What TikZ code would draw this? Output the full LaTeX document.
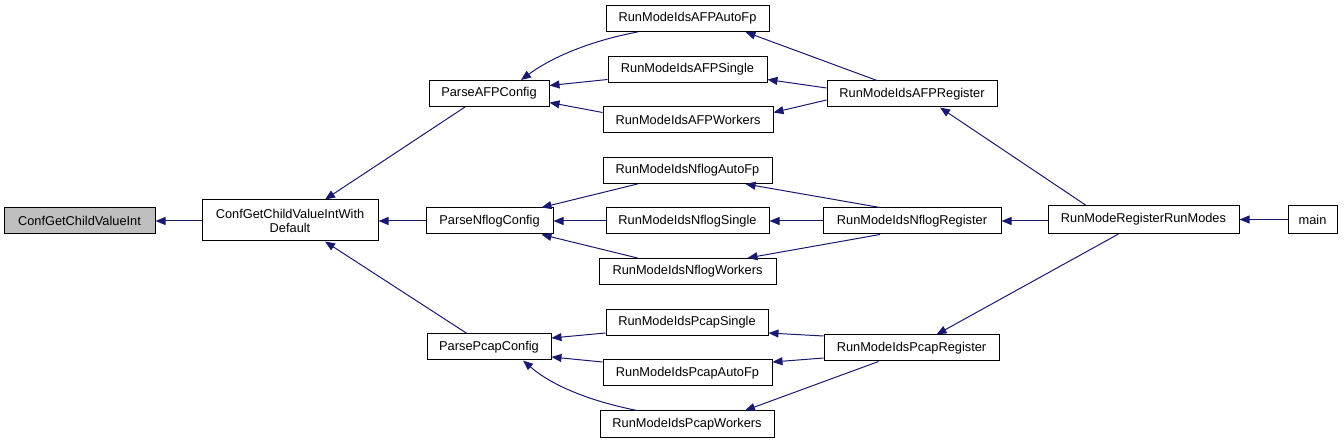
\documentclass[tikz,border=0pt]{standalone}
\usepackage{fontspec}
\setmainfont{Liberation Sans}
\usetikzlibrary{arrows.meta,calc}
\definecolor{edgeblue}{RGB}{25,25,112}
\definecolor{grayfill}{RGB}{191,191,191}
\tikzset{
  box/.style={draw=black, line width=1pt, fill=white, inner sep=0pt, minimum height=26pt,
    font=\fontsize{12.8}{15}\selectfont, align=center},
  arr/.style={draw=edgeblue, line width=1pt, -{Triangle[length=10pt,width=8pt]}}
}
\begin{document}
\begin{tikzpicture}[x=1pt,y=-1pt]
\useasboundingbox (0,0) rectangle (1344,443);
% nodes
\node[box, fill=grayfill, minimum width=151pt] (cgcvi) at (79.5,221) {ConfGetChildValueInt};
\node[box, minimum width=176pt, minimum height=41pt] (wd) at (290,220.5) {ConfGetChildValueIntWith\\[-1pt]Default};
\node[box, minimum width=120pt] (pafp) at (489,93.5) {ParseAFPConfig};
\node[box, minimum width=127pt] (pnflog) at (489.5,221) {ParseNflogConfig};
\node[box, minimum width=124pt] (ppcap) at (489,347) {ParsePcapConfig};
\node[box, minimum width=163pt] (afpauto) at (687.5,18.5) {RunModeIdsAFPAutoFp};
\node[box, minimum width=159pt] (afpsingle) at (687.5,69.5) {RunModeIdsAFPSingle};
\node[box, minimum width=170pt] (afpworkers) at (688,119.5) {RunModeIdsAFPWorkers};
\node[box, minimum width=169pt] (nflogauto) at (687.5,170.5) {RunModeIdsNflogAutoFp};
\node[box, minimum width=163pt] (nflogsingle) at (687.5,221) {RunModeIdsNflogSingle};
\node[box, minimum width=177pt] (nflogworkers) at (687.5,271.5) {RunModeIdsNflogWorkers};
\node[box, minimum width=162pt] (pcapsingle) at (687,322.5) {RunModeIdsPcapSingle};
\node[box, minimum width=169pt] (pcapauto) at (687.5,373) {RunModeIdsPcapAutoFp};
\node[box, minimum width=174pt] (pcapworkers) at (687,424) {RunModeIdsPcapWorkers};
\node[box, minimum width=170pt] (afpreg) at (912,94) {RunModeIdsAFPRegister};
\node[box, minimum width=178pt] (nflogreg) at (912,221) {RunModeIdsNflogRegister};
\node[box, minimum width=175pt] (pcapreg) at (911.5,348) {RunModeIdsPcapRegister};
\node[box, minimum width=191pt, minimum height=28pt] (rrm) at (1143.5,219.5) {RunModeRegisterRunModes};
\node[box, minimum width=49pt, minimum height=28pt] (main) at (1312.5,219.5) {main};
% edges
\draw[arr] (wd.west |- cgcvi.east) -- (cgcvi.east);
\draw[arr] ([xshift=-24]pafp.south) -- ([xshift=35]wd.north);
\draw[arr] (pnflog.west) -- (wd.east |- pnflog.west);
\draw[arr] ([xshift=-22]ppcap.north) -- ([xshift=35]wd.south);
\draw[arr] ([xshift=-50]afpauto.south) .. controls (595,40) and (555,55) .. ([xshift=32]pafp.north);
\draw[arr] ($(afpsingle.west)+(0,10)$) -- ($(pafp.east)+(0,-8)$);
\draw[arr] ($(afpworkers.west)+(0,-7)$) -- ($(pafp.east)+(0,9)$);
\draw[arr] ([xshift=-35]afpreg.north) -- ([xshift=58]afpauto.south);
\draw[arr] ($(afpreg.west)+(0,-6)$) -- ($(afpsingle.east)+(0,10)$);
\draw[arr] ($(afpreg.west)+(0,6)$) -- ($(afpworkers.east)+(0,-7)$);
\draw[arr] ([xshift=-58]rrm.north) -- ([xshift=28]afpreg.south);
\draw[arr] (rrm.west |- nflogreg.east) -- (nflogreg.east);
\draw[arr] ([xshift=-25]rrm.south) -- ([xshift=25]pcapreg.north);
\draw[arr] (main.west) -- (rrm.east);
\draw[arr] ([xshift=-50]nflogauto.south) -- ([xshift=52]pnflog.north);
\draw[arr] (nflogsingle.west) -- (pnflog.east);
\draw[arr] ([xshift=-50]nflogworkers.north) -- ([xshift=52]pnflog.south);
\draw[arr] ([xshift=-32]nflogreg.north) -- ([xshift=58]nflogauto.south);
\draw[arr] (nflogreg.west) -- (nflogsingle.east);
\draw[arr] ([xshift=-32]nflogreg.south) -- ([xshift=60]nflogworkers.north);
\draw[arr] ($(pcapsingle.west)+(0,10.5)$) -- ($(ppcap.east)+(0,-9)$);
\draw[arr] ($(pcapauto.west)+(0,-11)$) -- ($(ppcap.east)+(0,10)$);
\draw[arr] ([xshift=-50]pcapworkers.north) .. controls (595,402) and (555,388) .. ([xshift=34]ppcap.south);
\draw[arr] ($(pcapreg.west)+(0,-12)$) -- ($(pcapsingle.east)+(0,10.5)$);
\draw[arr] ($(pcapreg.west)+(0,10)$) -- ($(pcapauto.east)+(0,-11)$);
\draw[arr] ([xshift=-33]pcapreg.south) -- ([xshift=58]pcapworkers.north);
\end{tikzpicture}
\end{document}
